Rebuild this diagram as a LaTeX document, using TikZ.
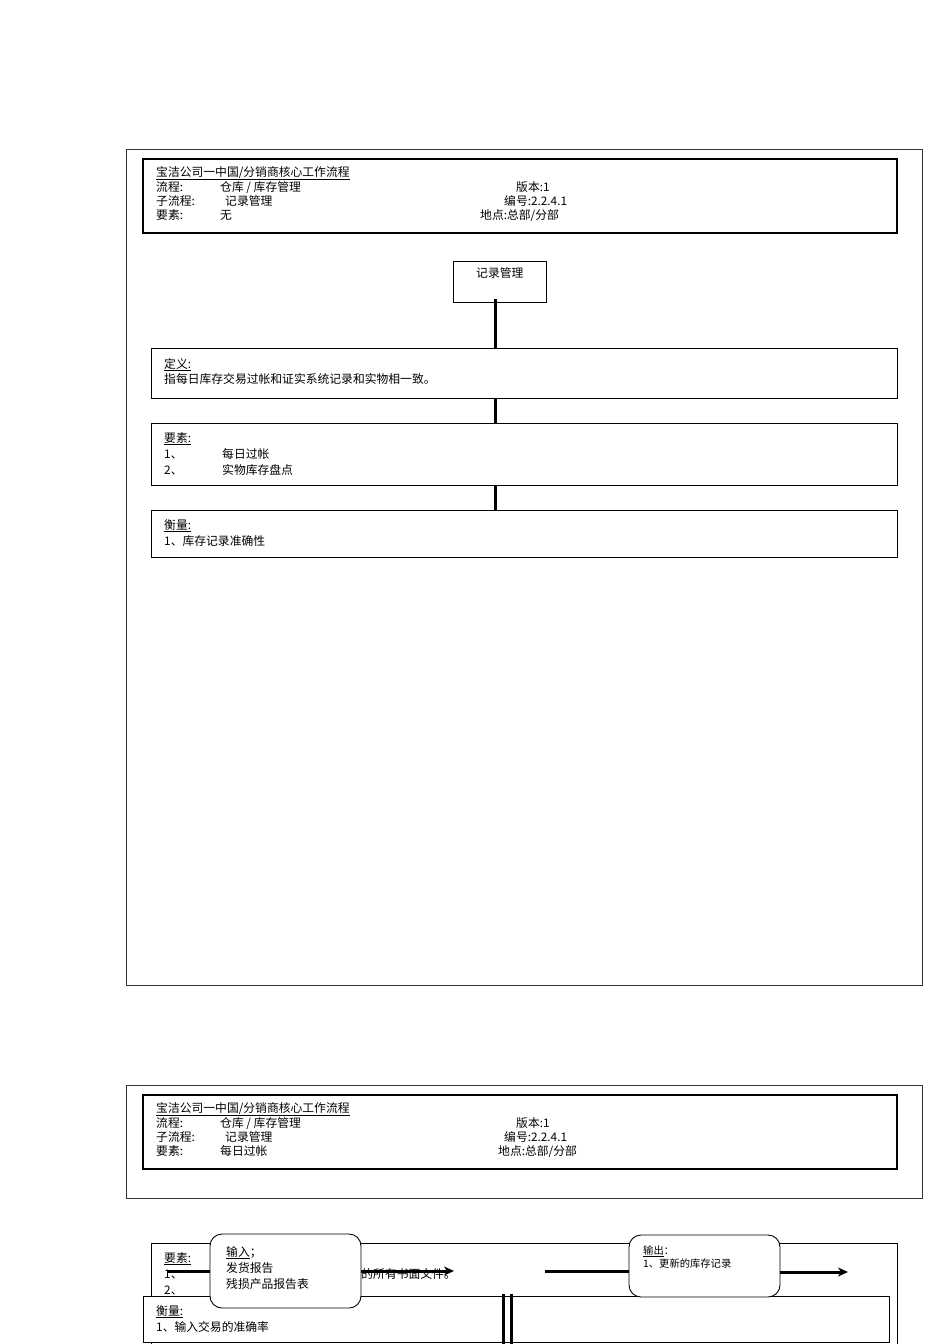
\documentclass[tikz,border=0pt]{standalone}
\usepackage{fontspec}
\setmainfont{Noto Sans CJK SC}
\usetikzlibrary{arrows.meta}
\begin{document}
\begin{tikzpicture}[x=1pt,y=-1pt,
  frame/.style={draw=black!80, line width=0.7pt, inner sep=0pt, outer sep=0pt, anchor=north west},
  hbox/.style={draw=black, line width=1.2pt, fill=white, inner sep=0pt, outer sep=0pt, anchor=north west},
  ibox/.style={draw=black, line width=0.9pt, fill=white, inner sep=0pt, outer sep=0pt, anchor=north west},
  rbox/.style={draw=black, line width=0.9pt, fill=white, rounded corners=12pt, inner sep=0pt, outer sep=0pt, anchor=north west},
  txt/.style={anchor=base west, inner sep=0pt, font=\fontsize{11.8}{13}\selectfont},
  stxt/.style={anchor=base west, inner sep=0pt, font=\fontsize{10.3}{11}\selectfont},
  conn/.style={line width=3pt},
  arr/.style={line width=3pt, -{Stealth[length=10pt,width=9pt,inset=3pt]}}
]
\useasboundingbox (0,0) rectangle (950,1344);
\fill[white] (0,0) rectangle (950,1344);

% ---------------- Page 1 ----------------
\node[frame, minimum width=796pt, minimum height=836pt] (p1) at (126,149) {};
\node[hbox, minimum width=754pt, minimum height=74pt] (h1) at (143,159) {};
\node[txt] (h1t) at (156,176) {\underline{宝洁公司一中国/分销商核心工作流程}};
\node[txt] (h1a) at (156,191) {流程:};
\node[txt] (h1b) at (220,191) {仓库 / 库存管理};
\node[txt] (h1c) at (516,191) {版本:1};
\node[txt] (h1d) at (156,205) {子流程:};
\node[txt] (h1e) at (225,205) {记录管理};
\node[txt] (h1f) at (504,205) {编号:2.2.4.1};
\node[txt] (h1g) at (156,219) {要素:};
\node[txt] (h1h) at (220,219) {无};
\node[txt] (h1i) at (480,219) {地点:总部/分部};

\node[ibox, minimum width=93pt, minimum height=41pt] (rec) at (453,261) {};
\node[txt] (rect) at (476,277) {记录管理};

\node[ibox, minimum width=746pt, minimum height=50pt] (def) at (151,348) {};
\node[txt] (def1) at (164,368) {\underline{定义:}};
\node[txt] (def2) at (164,383) {指每日库存交易过帐和证实系统记录和实物相一致。};

\node[ibox, minimum width=746pt, minimum height=62pt] (ele) at (151,423) {};
\node[txt] (ele1) at (164,442) {\underline{要素:}};
\node[txt] (ele2) at (164,458) {1、};
\node[txt] (ele3) at (222,458) {每日过帐};
\node[txt] (ele4) at (164,474) {2、};
\node[txt] (ele5) at (222,474) {实物库存盘点};

\node[ibox, minimum width=746pt, minimum height=47pt] (mea) at (151,510) {};
\node[txt] (mea1) at (164,529) {\underline{衡量:}};
\node[txt] (mea2) at (164,545) {1、库存记录准确性};

\coordinate (c0) at (495,299);
\draw[conn] (c0) -- (c0 |- def.north);
\draw[conn] (c0 |- def.south) -- (c0 |- ele.north);
\draw[conn] (c0 |- ele.south) -- (c0 |- mea.north);

% ---------------- Page 2 ----------------
\node[frame, minimum width=796pt, minimum height=113pt] (p2) at (126,1085) {};
\node[hbox, minimum width=754pt, minimum height=74pt] (h2) at (143,1095) {};
\node[txt] (h2t) at (156,1112) {\underline{宝洁公司一中国/分销商核心工作流程}};
\node[txt] (h2a) at (156,1127) {流程:};
\node[txt] (h2b) at (220,1127) {仓库 / 库存管理};
\node[txt] (h2c) at (516,1127) {版本:1};
\node[txt] (h2d) at (156,1141) {子流程:};
\node[txt] (h2e) at (225,1141) {记录管理};
\node[txt] (h2f) at (504,1141) {编号:2.2.4.1};
\node[txt] (h2g) at (156,1155) {要素:};
\node[txt] (h2h) at (220,1155) {每日过帐};
\node[txt] (h2i) at (498,1155) {地点:总部/分部};

% element box (cut by page bottom)
\draw[black, line width=0.9pt] (151,1346) |- (897,1243) -- (897,1346);
\node[txt] (e2a) at (164,1262) {\underline{要素:}};
\node[txt] (e2b) at (164,1278) {1、};
\node[txt, anchor=base east] (e2c) at (456,1278) {的所有书面文件。};
\node[txt] (e2d) at (164,1294) {2、};

% arrows
\coordinate (a1s) at (168,1271);
\coordinate (a1e) at (454,1271);
\draw[arr] (a1s) -- (a1e);
\coordinate (a2s) at (545,1271);

% measure box
\node[ibox, minimum width=746pt, minimum height=46pt] (m2) at (143,1296) {};
\node[txt] (m2a) at (156,1315) {\underline{衡量:}};
\node[txt] (m2b) at (156,1331) {1、输入交易的准确率};

\coordinate (d1) at (503,1294);
\coordinate (d2) at (511,1294);
\draw[conn] (d1) -- (503,1346);
\draw[conn] (d2) -- (511,1346);

% input / output boxes
\node[rbox, minimum width=151pt, minimum height=74pt] (in) at (210,1234) {};
\node[txt] (in1) at (226,1256) {\underline{输入}；};
\node[txt] (in2) at (226,1272) {发货报告};
\node[txt] (in3) at (226,1288) {残损产品报告表};

\node[rbox, minimum width=151pt, minimum height=62pt] (out) at (629,1235) {};
\node[stxt] (out1) at (643,1254) {\underline{输出}：};
\node[stxt] (out2) at (643,1267) {1、更新的库存记录};

\draw[conn] (a2s) -- (a2s -| out.west);
\coordinate (a3e) at (848,1272);
\draw[arr] (out.east |- a3e) -- (a3e);
\end{tikzpicture}
\end{document}
